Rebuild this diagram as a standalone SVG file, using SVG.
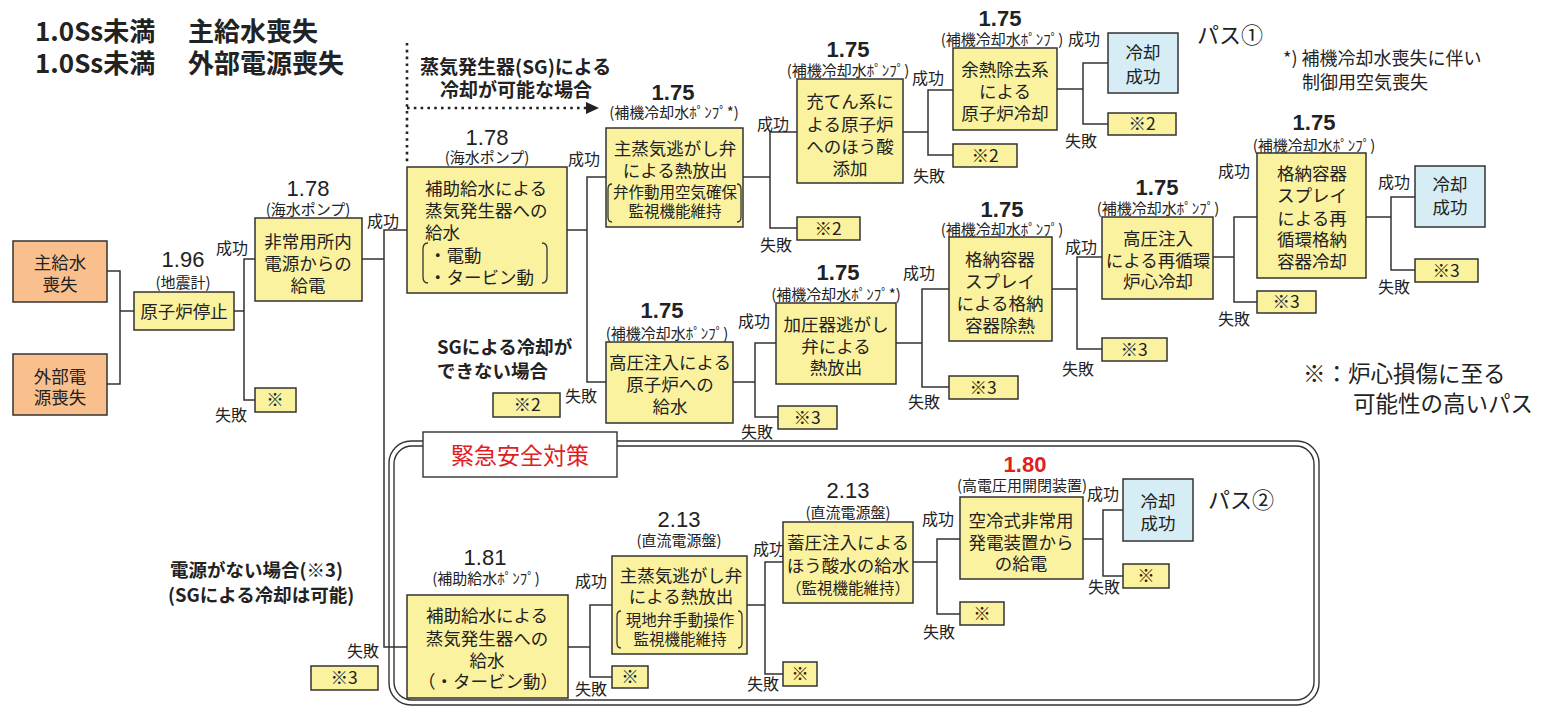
<svg xmlns="http://www.w3.org/2000/svg" width="1545" height="707" viewBox="0 0 1545 707">
<defs>
<style>
.y{fill:#FBF29F;stroke:#333;stroke-width:1.5}
.o{fill:#F9C08E;stroke:#333;stroke-width:1.5}
.c{fill:#D6EDF5;stroke:#333;stroke-width:1.5}
.ln{fill:none;stroke:#333;stroke-width:1.5}
.br{fill:none;stroke:#333;stroke-width:1.3}
text{font-family:"Noto Sans CJK JP","Noto Sans CJK SC",sans-serif;fill:#222}
.t{font-size:17.5px;text-anchor:middle}
.ts{font-size:15.5px;text-anchor:middle}
.tl{font-size:17.5px}
.sm{font-size:15px;text-anchor:middle}
.n{font-family:"Liberation Sans",Arial,sans-serif;font-size:22px;text-anchor:middle}
.nb{font-family:"Liberation Sans",Arial,sans-serif;font-size:22px;font-weight:bold;text-anchor:middle}
.sf{font-size:16px}
.h{font-weight:bold}
</style>
</defs>
<rect width="1545" height="707" fill="#fff"/>

<!-- titles -->
<g id="title">
<text class="h" font-size="26" y="41"><tspan x="35">1.0Ss未満</tspan><tspan x="188">主給水喪失</tspan></text>
<text class="h" font-size="26" y="73"><tspan x="35">1.0Ss未満</tspan><tspan x="188">外部電源喪失</tspan></text>
</g>

<!-- emergency safety frame -->
<g id="frame">
<rect x="389" y="441" width="930" height="264" rx="22" fill="none" stroke="#333" stroke-width="1.4"/>
<rect x="394" y="446" width="920" height="254" rx="18" fill="none" stroke="#333" stroke-width="1.4"/>
<rect x="423" y="432" width="194" height="45" fill="#fff" stroke="#333" stroke-width="1.4"/>
<text x="520" y="464" font-size="23" text-anchor="middle" style="fill:#E0201E">緊急安全対策</text>
</g>

<!-- connectors -->
<g id="connectors">
<path class="ln" d="M107,271 H120 V384 H107 M120,311 H134"/>
<path class="ln" d="M234,311 H244 M255,259 H244 V400 H255"/>
<path class="ln" d="M362,259 H384 M407,230 H384 V647 H407"/>
<path class="ln" d="M567,230 H587 M606,177 H587 V382 H606"/>
<path class="ln" d="M743,177 H770 M797,132 H770 V228 H797"/>
<path class="ln" d="M903,132 H928 M953,90 H928 V155 H953"/>
<path class="ln" d="M1057,89 H1083 M1108,63 H1083 V124 H1108"/>
<path class="ln" d="M733,382 H755 M776,343 H755 V417 H778"/>
<path class="ln" d="M896,343 H922 M949,289 H922 V387 H949"/>
<path class="ln" d="M1052,289 H1077 M1102,257 H1077 V349 H1102"/>
<path class="ln" d="M1213,257 H1234 M1257,217 H1234 V302 H1257"/>
<path class="ln" d="M1366,217 H1391 M1415,197 H1391 V270 H1415"/>
<path class="ln" d="M568,647 H590 M612,605 H590 V677 H612"/>
<path class="ln" d="M747,605 H765 M783,562 H765 V674 H783"/>
<path class="ln" d="M913,562 H937 M960,539 H937 V614 H960"/>
<path class="ln" d="M1083,539 H1103 M1123,510 H1103 V576 H1123"/>
<path d="M407,43 V165 M407,108 H586" fill="none" stroke="#222" stroke-width="2.6" stroke-dasharray="2.6 4.2"/>
<path d="M586,102 L599,108 L586,114 Z" fill="#222"/>
</g>

<!-- success / failure labels -->
<g id="branch-labels" class="sf">
<text x="216" y="254">成功</text><text x="215" y="421">失敗</text>
<text x="367" y="227">成功</text><text x="347" y="657">失敗</text>
<text x="568" y="165">成功</text><text x="565" y="402">失敗</text>
<text x="757" y="130">成功</text><text x="760" y="251">失敗</text>
<text x="912" y="84">成功</text><text x="913" y="182">失敗</text>
<text x="1068" y="45">成功</text><text x="1065" y="147">失敗</text>
<text x="738" y="327">成功</text><text x="741" y="438">失敗</text>
<text x="903" y="279">成功</text><text x="908" y="408">失敗</text>
<text x="1065" y="253">成功</text><text x="1062" y="375">失敗</text>
<text x="1218" y="177">成功</text><text x="1218" y="325">失敗</text>
<text x="1378" y="188">成功</text><text x="1378" y="293">失敗</text>
<text x="575" y="587">成功</text><text x="575" y="695">失敗</text>
<text x="753" y="555">成功</text><text x="747" y="690">失敗</text>
<text x="922" y="525">成功</text><text x="923" y="638">失敗</text>
<text x="1087" y="500">成功</text><text x="1088" y="593">失敗</text>
</g>

<!-- initiating events -->
<g id="n-mfw">
<rect class="o" x="13" y="241" width="94" height="61"/>
<text class="t" x="60" y="269">主給水</text><text class="t" x="60" y="291">喪失</text>
</g>
<g id="n-lop">
<rect class="o" x="13" y="354" width="94" height="61"/>
<text class="t" x="60" y="383">外部電</text><text class="t" x="60" y="404">源喪失</text>
</g>

<g id="n-trip">
<text class="n" x="183" y="267">1.96</text>
<text class="sm" x="183" y="288">(地震計)</text>
<rect class="y" x="134" y="292" width="100" height="38"/>
<text class="t" x="184" y="318" font-size="18">原子炉停止</text>
</g>
<g id="f-trip"><rect class="y" x="255" y="388" width="41" height="24"/><text class="t" x="275" y="406">※</text></g>

<g id="n-power">
<text class="n" x="308" y="196">1.78</text>
<text class="sm" x="308" y="215">(海水ポンプ)</text>
<rect class="y" x="255" y="218" width="107" height="83"/>
<text class="t" x="308" y="248">非常用所内</text>
<text class="t" x="308" y="270">電源からの</text>
<text class="t" x="308" y="292">給電</text>
</g>

<g id="n-afw">
<text class="n" x="487" y="145">1.78</text>
<text class="sm" x="487" y="163">(海水ポンプ)</text>
<rect class="y" x="407" y="167" width="160" height="126"/>
<text class="tl" x="425" y="195">補助給水による</text>
<text class="tl" x="425" y="217">蒸気発生器への</text>
<text class="tl" x="425" y="239">給水</text>
<text class="tl" x="429" y="262">・電動</text>
<text class="tl" x="429" y="284">・タービン動</text>
<path class="br" d="M428,243 Q423,243 423,249 V277 Q423,283 428,283 M542,243 Q547,243 547,249 V277 Q547,283 542,283"/>
</g>

<g id="note-sg">
<text class="h" x="420" y="74" font-size="19">蒸気発生器(SG)による</text>
<text class="h" x="440" y="97" font-size="19">冷却が可能な場合</text>
</g>

<g id="n-msrv">
<text class="nb" x="673" y="100">1.75</text>
<text class="sm" x="674" y="118">(補機冷却水ﾎﾟﾝﾌﾟ*)</text>
<rect class="y" x="606" y="128" width="137" height="99"/>
<text class="t" x="675" y="155">主蒸気逃がし弁</text>
<text class="t" x="675" y="177">による熱放出</text>
<text class="ts" x="675" y="198">弁作動用空気確保</text>
<text class="ts" x="675" y="217">監視機能維持</text>
<path class="br" d="M612,184 Q608,184 608,189 V217 Q608,222 612,222 M737,184 Q741,184 741,189 V217 Q741,222 737,222"/>
</g>
<g id="f-msrv"><rect class="y" x="797" y="217" width="63" height="23"/><text class="t" x="828" y="235">※2</text></g>

<g id="n-boron">
<text class="nb" x="848" y="57">1.75</text>
<text class="sm" x="848" y="76">(補機冷却水ﾎﾟﾝﾌﾟ)</text>
<rect class="y" x="797" y="79" width="106" height="104"/>
<text class="t" x="850" y="108">充てん系に</text>
<text class="t" x="850" y="131">よる原子炉</text>
<text class="t" x="850" y="153">へのほう酸</text>
<text class="t" x="850" y="175">添加</text>
</g>
<g id="f-boron"><rect class="y" x="953" y="144" width="64" height="23"/><text class="t" x="985" y="162">※2</text></g>

<g id="n-rhr">
<text class="nb" x="1000" y="26">1.75</text>
<text class="sm" x="1002" y="45">(補機冷却水ﾎﾟﾝﾌﾟ)</text>
<rect class="y" x="953" y="48" width="104" height="82"/>
<text class="t" x="1005" y="76">余熱除去系</text>
<text class="t" x="1005" y="98">による</text>
<text class="t" x="1005" y="120">原子炉冷却</text>
</g>
<g id="f-rhr"><rect class="y" x="1108" y="113" width="68" height="22"/><text class="t" x="1142" y="130">※2</text></g>
<g id="ok1">
<rect class="c" x="1108" y="33" width="70" height="60"/>
<text class="t" x="1143" y="59">冷却</text><text class="t" x="1143" y="83">成功</text>
</g>
<g id="path1"><text x="1197" y="43" font-size="22">パス①</text></g>
<g id="note-star">
<text x="1283" y="65" font-size="18">*) 補機冷却水喪失に伴い</text>
<text x="1302" y="89" font-size="18">制御用空気喪失</text>
</g>

<g id="note-nosg">
<text class="h" x="437" y="354" font-size="18.5">SGによる冷却が</text>
<text class="h" x="437" y="378" font-size="18.5">できない場合</text>
</g>
<g id="s2"><rect class="y" x="493" y="393" width="67" height="24"/><text class="t" x="527" y="411">※2</text></g>

<g id="n-hpi">
<text class="nb" x="662" y="318">1.75</text>
<text class="sm" x="667" y="339">(補機冷却水ﾎﾟﾝﾌﾟ)</text>
<rect class="y" x="606" y="342" width="127" height="81"/>
<text class="t" x="670" y="369">高圧注入による</text>
<text class="t" x="670" y="391">原子炉への</text>
<text class="t" x="670" y="413">給水</text>
</g>
<g id="f-hpi"><rect class="y" x="778" y="406" width="59" height="23"/><text class="t" x="807" y="424">※3</text></g>

<g id="n-porv">
<text class="nb" x="838" y="280">1.75</text>
<text class="sm" x="836" y="300">(補機冷却水ﾎﾟﾝﾌﾟ*)</text>
<rect class="y" x="776" y="303" width="120" height="81"/>
<text class="t" x="836" y="331">加圧器逃がし</text>
<text class="t" x="836" y="353">弁による</text>
<text class="t" x="836" y="374">熱放出</text>
</g>
<g id="f-porv"><rect class="y" x="949" y="376" width="69" height="23"/><text class="t" x="983" y="394">※3</text></g>

<g id="n-cs">
<text class="nb" x="1002" y="217">1.75</text>
<text class="sm" x="1002" y="235">(補機冷却水ﾎﾟﾝﾌﾟ)</text>
<rect class="y" x="949" y="237" width="103" height="104"/>
<text class="t" x="1000" y="266">格納容器</text>
<text class="t" x="1000" y="288">スプレイ</text>
<text class="t" x="1000" y="310">による格納</text>
<text class="t" x="1000" y="332">容器除熱</text>
</g>
<g id="f-cs"><rect class="y" x="1102" y="338" width="65" height="23"/><text class="t" x="1134" y="356">※3</text></g>

<g id="n-hlr">
<text class="nb" x="1157" y="195">1.75</text>
<text class="sm" x="1158" y="214">(補機冷却水ﾎﾟﾝﾌﾟ)</text>
<rect class="y" x="1102" y="217" width="111" height="82"/>
<text class="t" x="1158" y="245">高圧注入</text>
<text class="t" x="1158" y="267">による再循環</text>
<text class="t" x="1158" y="288">炉心冷却</text>
</g>
<g id="f-hlr"><rect class="y" x="1257" y="291" width="59" height="22"/><text class="t" x="1286" y="308">※3</text></g>

<g id="n-csr">
<text class="nb" x="1314" y="130">1.75</text>
<text class="sm" x="1314" y="151">(補機冷却水ﾎﾟﾝﾌﾟ)</text>
<rect class="y" x="1257" y="153" width="109" height="125"/>
<text class="t" x="1312" y="180">格納容器</text>
<text class="t" x="1312" y="202">スプレイ</text>
<text class="t" x="1312" y="225">による再</text>
<text class="t" x="1312" y="246">循環格納</text>
<text class="t" x="1312" y="268">容器冷却</text>
</g>
<g id="f-csr"><rect class="y" x="1415" y="259" width="63" height="23"/><text class="t" x="1446" y="277">※3</text></g>
<g id="ok2">
<rect class="c" x="1415" y="166" width="70" height="61"/>
<text class="t" x="1450" y="191">冷却</text><text class="t" x="1450" y="214">成功</text>
</g>

<g id="legend">
<text x="1303" y="382" font-size="22.5">※：炉心損傷に至る</text>
<text x="1353" y="412" font-size="22.5">可能性の高いパス</text>
</g>

<g id="note-nopower">
<text class="h" x="170" y="577" font-size="18.5">電源がない場合(※3)</text>
<text class="h" x="168" y="602" font-size="18.5">(SGによる冷却は可能)</text>
</g>
<g id="s3"><rect class="y" x="311" y="666" width="67" height="24"/><text class="t" x="344" y="684">※3</text></g>

<g id="n-afw2">
<text class="n" x="485" y="565">1.81</text>
<text class="sm" x="486" y="584">(補助給水ﾎﾟﾝﾌﾟ)</text>
<rect class="y" x="407" y="595" width="161" height="103"/>
<text class="t" x="487" y="622">補助給水による</text>
<text class="t" x="487" y="645">蒸気発生器への</text>
<text class="t" x="487" y="667">給水</text>
<text class="t" x="488" y="688" font-size="16.5">（・タービン動）</text>
</g>
<g id="f-afw2"><rect class="y" x="612" y="666" width="36" height="22"/><text class="t" x="630" y="683">※</text></g>

<g id="n-msrv2">
<text class="n" x="679" y="527">2.13</text>
<text class="sm" x="679" y="546">(直流電源盤)</text>
<rect class="y" x="612" y="556" width="135" height="98"/>
<text class="t" x="681" y="582">主蒸気逃がし弁</text>
<text class="t" x="681" y="603">による熱放出</text>
<text class="ts" x="680" y="626">現地弁手動操作</text>
<text class="ts" x="680" y="645">監視機能維持</text>
<path class="br" d="M621,611 Q617,611 617,616 V643 Q617,648 621,648 M738,611 Q742,611 742,616 V643 Q742,648 738,648"/>
</g>
<g id="f-msrv2"><rect class="y" x="783" y="662" width="34" height="24"/><text class="t" x="800" y="680">※</text></g>

<g id="n-acc">
<text class="n" x="848" y="498">2.13</text>
<text class="sm" x="848" y="518">(直流電源盤)</text>
<rect class="y" x="783" y="522" width="130" height="81"/>
<text class="t" x="848" y="549">蓄圧注入による</text>
<text class="t" x="848" y="572">ほう酸水の給水</text>
<text class="ts" x="848" y="594">（監視機能維持）</text>
</g>
<g id="f-acc"><rect class="y" x="960" y="602" width="44" height="23"/><text class="t" x="982" y="620">※</text></g>

<g id="n-gen">
<text class="nb" x="1025" y="472" style="fill:#E0201E">1.80</text>
<text class="sm" x="1022" y="491" font-size="15.5">(高電圧用開閉装置)</text>
<rect class="y" x="960" y="497" width="123" height="82"/>
<text class="t" x="1021" y="527">空冷式非常用</text>
<text class="t" x="1021" y="549">発電装置から</text>
<text class="t" x="1021" y="570">の給電</text>
</g>
<g id="f-gen"><rect class="y" x="1123" y="564" width="46" height="24"/><text class="t" x="1146" y="582">※</text></g>
<g id="ok3">
<rect class="c" x="1123" y="479" width="70" height="62"/>
<text class="t" x="1158" y="508">冷却</text><text class="t" x="1158" y="530">成功</text>
</g>
<g id="path2"><text x="1208" y="508" font-size="22">パス②</text></g>
</svg>
